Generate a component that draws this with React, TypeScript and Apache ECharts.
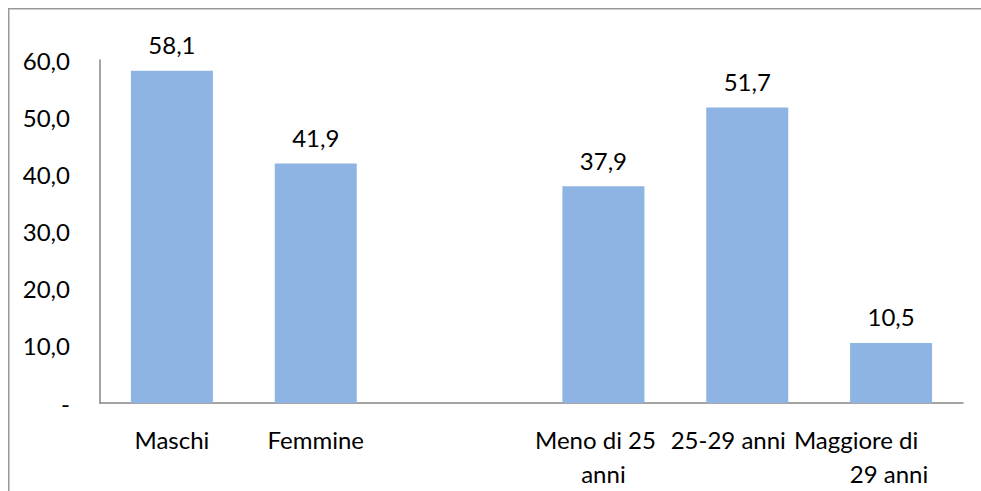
import React, { useEffect, useRef } from "react";
import * as echarts from "echarts";

const categories = ["Maschi", "Femmine", "", "Meno di 25 anni", "25-29 anni", "Maggiore di 29 anni"];
const values: (number | string)[] = [58.1, 41.9, "-", 37.9, 51.7, 10.5];
const yTicks = [0, 10, 20, 30, 40, 50, 60];

const FONT = "Lato";
const FS = 24;

function fmt(v: number): string {
  if (v === 0) return "-";
  return v.toFixed(1).replace(".", ",");
}

export default function App() {
  const ref = useRef<HTMLDivElement>(null);
  useEffect(() => {
    document.documentElement.style.overflow = "hidden";
    document.body.style.overflow = "hidden";
    if (!ref.current) return;
    const chart = echarts.init(ref.current, null, { renderer: "svg" });
    const base = { fontFamily: FONT, fontSize: FS, lineHeight: 34, color: "#000" };
    chart.setOption({
      animation: false,
      graphic: [
        {
          type: "line",
          shape: { x1: 0, y1: 0.75, x2: 1000, y2: 0.75 },
          style: { stroke: "#999", lineWidth: 1.5 },
          silent: true,
        },
        {
          type: "line",
          shape: { x1: 0.75, y1: 0, x2: 0.75, y2: 600 },
          style: { stroke: "#999", lineWidth: 1.5 },
          silent: true,
        },
      ],
      grid: {
        left: 92,
        right: 18,
        top: 52,
        bottom: 88,
        containLabel: false,
        outerBoundsMode: "none",
      },
      xAxis: {
        type: "category",
        data: categories,
        axisLine: { lineStyle: { color: "#868686", width: 1.5 } },
        axisTick: { show: false },
        axisLabel: {
          interval: 0,
          margin: 19,
          ...base,
          formatter: (v: string) => {
            if (v === "Meno di 25 anni") return "{m|Meno di 25}\n{n|anni}";
            if (v === "25-29 anni") return "{c|25-29 anni}";
            if (v === "Maggiore di 29 anni") return "{a|Maggiore di}\n{b|29 anni}";
            return v;
          },
          rich: {
            m: { ...base, padding: [0, 16, 0, 0] },
            n: { ...base },
            c: { ...base, padding: [0, 38, 0, 0] },
            a: { ...base, padding: [0, 70, 0, 0] },
            b: { ...base, align: "right", padding: [0, 60, 0, 0] },
          },
        },
      },
      yAxis: {
        type: "value",
        min: yTicks[0],
        max: yTicks[yTicks.length - 1],
        interval: 10,
        axisLine: { show: true, lineStyle: { color: "#868686", width: 1.5 } },
        axisTick: { show: false },
        splitLine: { show: false },
        axisLabel: {
          margin: 30,
          color: "#000",
          fontFamily: FONT,
          fontSize: FS,
          formatter: (v: number) => fmt(v),
        },
      },
      series: [
        {
          type: "bar",
          data: values,
          barWidth: 82,
          itemStyle: { color: "#8EB4E3" },
          label: {
            show: true,
            position: "top",
            distance: 14,
            color: "#000",
            fontFamily: FONT,
            fontSize: FS,
            formatter: (p: any) => fmt(p.value),
          },
        },
      ],
    });
    return () => chart.dispose();
  }, []);
  return (
    <div
      ref={ref}
      style={{
        position: "fixed",
        left: 8,
        top: 8,
        width: 973,
        height: 483,
        background: "#fff",
      }}
    />
  );
}
